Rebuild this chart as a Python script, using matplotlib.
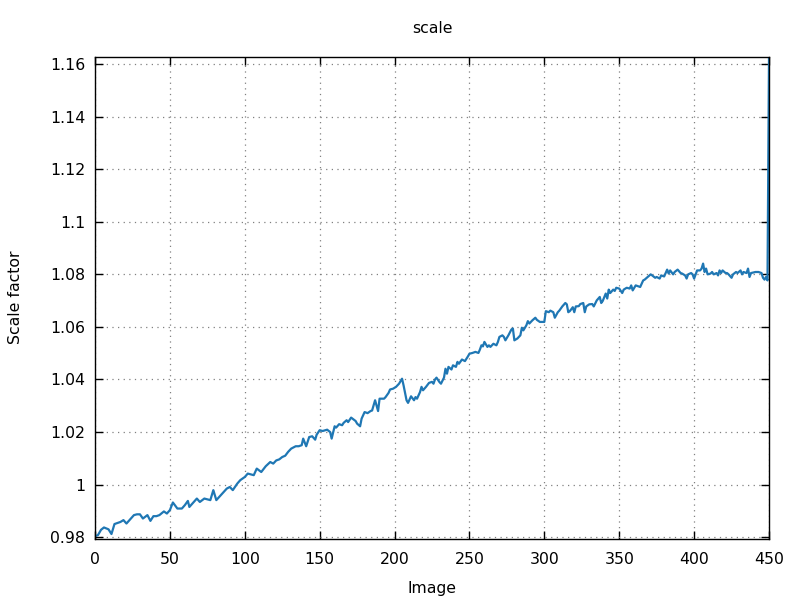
import matplotlib
matplotlib.use("Agg")
import matplotlib.pyplot as plt
from matplotlib.ticker import FuncFormatter

# values (image index -> scale factor)
image = [0, 2, 4, 6, 9, 11, 13, 17, 19, 21, 23, 26, 28, 30, 32, 35, 37, 39, 41, 43,
         46, 48, 50, 52, 55, 58, 60, 62, 63, 68, 70, 73, 77, 79, 81, 85, 88, 90, 92, 95,
         97, 100, 102, 106, 108, 111, 114, 117, 119, 121, 123, 125, 127, 129,
         131, 134, 136, 138, 139, 141, 143, 145, 147, 148, 150, 152, 155, 157, 158, 160,
         161, 163, 165, 166, 168, 169, 171, 174, 175, 177, 178, 180, 182, 184, 185, 187,
         189, 190, 193, 194, 196, 197, 199, 201, 203, 205, 206, 208, 209, 211, 213, 214,
         215, 217, 218, 219, 221, 223, 225, 226, 227, 228, 230,
         231, 233, 234, 235, 236, 238, 239, 241, 242, 243, 245, 247, 249, 250, 252, 254, 256,
         257, 258, 259, 260, 262, 263, 264, 266, 268, 269, 270, 272, 273, 274, 276, 278,
         279, 280, 282, 284, 285, 286, 288, 289, 290, 292, 294, 295, 297, 300, 301, 303,
         304, 306, 307, 309, 310, 312, 314, 315, 316, 317, 319, 320, 321, 323, 324, 326,
         327, 328, 330, 332, 333, 335, 337, 338, 339, 341, 342, 343,
         344, 346, 347, 348, 350, 352, 353, 355, 357, 358, 359, 361, 363, 364, 366, 367,
         369, 371, 372, 374, 375, 377, 378, 380, 381, 382, 383, 384, 386, 387, 389, 391,
         392, 394, 395, 396, 398, 399, 400, 402, 404, 405, 406, 407, 408, 409, 411, 412,
         413, 415, 416, 417, 418, 419, 421, 422, 423, 425, 426, 428, 429, 431, 432, 433,
         435, 436, 437, 438, 441, 443, 445, 446, 447, 448, 449, 450]

scale = [0.9804, 0.9808, 0.9828, 0.9837, 0.9830, 0.9812, 0.9850, 0.9858, 0.9865, 0.9852,
         0.9865, 0.9884, 0.9887, 0.9887, 0.9871, 0.9884, 0.9862, 0.9880, 0.9880, 0.9884,
         0.9898, 0.9890, 0.9903, 0.9932, 0.9909, 0.9909, 0.9922, 0.9938, 0.9915, 0.9947,
         0.9934, 0.9947, 0.9941, 0.9979, 0.9941, 0.9966, 0.9985, 0.9991, 0.9979, 1.0004,
         1.0017, 1.0029, 1.0042, 1.0036, 1.0061, 1.0048, 1.0070, 1.0086,
         1.0080, 1.0092, 1.0096, 1.0105, 1.0110, 1.0125,
         1.0137, 1.0146, 1.0146, 1.0150, 1.0175, 1.0146, 1.0181, 1.0184, 1.0171, 1.0190,
         1.0207, 1.0204, 1.0209, 1.0200, 1.0175, 1.0222, 1.0217, 1.0230, 1.0226, 1.0235,
         1.0245, 1.0238, 1.0255, 1.0242, 1.0232, 1.0222, 1.0251, 1.0276, 1.0272, 1.0280,
         1.0282, 1.0321, 1.0280, 1.0327, 1.0327, 1.0333, 1.0349, 1.0362, 1.0365, 1.0372,
         1.0384, 1.0403, 1.0378, 1.0321, 1.0311, 1.0336, 1.0321, 1.0333, 1.0327, 1.0352,
         1.0372, 1.0359, 1.0372, 1.0387, 1.0391, 1.0384, 1.0400, 1.0407, 1.0390,
         1.0384, 1.0407, 1.0441, 1.0422, 1.0448, 1.0438, 1.0454, 1.0448, 1.0467, 1.0460,
         1.0476, 1.0470, 1.0488, 1.0498, 1.0501, 1.0505, 1.0501,
         1.0514, 1.0530, 1.0526, 1.0543, 1.0524, 1.0530, 1.0524, 1.0536, 1.0530, 1.0543,
         1.0562, 1.0568, 1.0562, 1.0549, 1.0568, 1.0590, 1.0594, 1.0549, 1.0556, 1.0568,
         1.0597, 1.0587, 1.0606, 1.0622, 1.0613, 1.0625, 1.0635, 1.0627, 1.0619, 1.0619,
         1.0660, 1.0656, 1.0662, 1.0656, 1.0635, 1.0656, 1.0662, 1.0678, 1.0691, 1.0686,
         1.0656, 1.0660, 1.0675, 1.0656, 1.0678, 1.0679, 1.0687, 1.0691, 1.0656, 1.0678,
         1.0686, 1.0687, 1.0678, 1.0701, 1.0714, 1.0691, 1.0699, 1.0727, 1.0708, 1.0742,
         1.0729, 1.0742, 1.0737, 1.0749, 1.0746, 1.0729, 1.0742, 1.0749, 1.0746, 1.0758,
         1.0739, 1.0758, 1.0754, 1.0752, 1.0777, 1.0780, 1.0790, 1.0800, 1.0796, 1.0787,
         1.0790, 1.0784, 1.0796, 1.0792, 1.0805, 1.0818, 1.0803, 1.0815, 1.0800, 1.0809,
         1.0818, 1.0805, 1.0803, 1.0796, 1.0784, 1.0800, 1.0805, 1.0800, 1.0784, 1.0815,
         1.0815, 1.0822, 1.0841, 1.0809, 1.0822, 1.0800, 1.0803, 1.0809, 1.0800, 1.0805,
         1.0796, 1.0815, 1.0805, 1.0815, 1.0805, 1.0805, 1.0800, 1.0787, 1.0800, 1.0809,
         1.0805, 1.0815, 1.0800, 1.0809, 1.0805, 1.0822, 1.0790, 1.0805, 1.0809, 1.0809,
         1.0805, 1.0787, 1.0780, 1.0790, 1.0777, 1.1627]

xticks = [0, 50, 100, 150, 200, 250, 300, 350, 400, 450]
yticks = [0.98, 1.0, 1.02, 1.04, 1.06, 1.08, 1.1, 1.12, 1.14, 1.16]

plt.rcParams["font.family"] = "DejaVu Sans"
plt.rcParams["font.size"] = 11.3

fig = plt.figure(figsize=(8, 6), dpi=100)
ax = fig.add_axes([0.11875, 0.1025, 0.8425, 0.8025])

ax.plot(image, scale, color="#1f77b4", lw=1.6)

ax.set_xlim(0, 450)
ax.set_ylim(0.9795, 1.1627)
ax.set_xticks(xticks)
ax.set_yticks(yticks)
ax.yaxis.set_major_formatter(FuncFormatter(lambda v, p: "%g" % round(v, 4)))

ax.tick_params(direction="in", length=6, width=1, top=True, right=True, colors="black")
ax.tick_params(axis="y", pad=7)
ax.tick_params(axis="x", pad=10)
for s in ax.spines.values():
    s.set_linewidth(1)
ax.grid(True, color="#808080", linestyle=(0, (1, 3.5)), linewidth=0.9)

ax.set_title("scale", pad=17, fontsize=11.3)
ax.set_xlabel("Image", labelpad=10)
fig.text(16 / 800, 1 - 297.5 / 600, "Scale factor", rotation=90, ha="center", va="center")

fig.savefig("out.png", dpi=100)
